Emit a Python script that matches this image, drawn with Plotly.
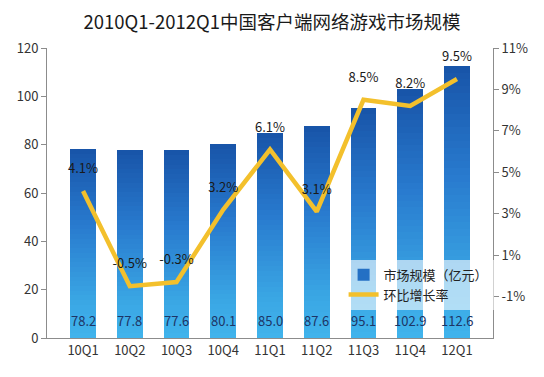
import plotly.graph_objects as go

categories = ["10Q1", "10Q2", "10Q3", "10Q4", "11Q1", "11Q2", "11Q3", "11Q4", "12Q1"]
market_size = [78.2, 77.8, 77.6, 80.1, 85.0, 87.6, 95.1, 102.9, 112.6]
growth_rate = [4.1, -0.5, -0.3, 3.2, 6.1, 3.1, 8.5, 8.2, 9.5]
left_ticks = [0, 20, 40, 60, 80, 100, 120]
right_ticks = [-1, 1, 3, 5, 7, 9, 11]

FONT = "Noto Sans CJK SC, Noto Sans, sans-serif"

# gradient stops (fraction of bar height from bottom -> colour)
stops = [(0.0, (64, 180, 236)), (0.2, (58, 166, 228)), (0.6, (40, 122, 206)), (1.0, (24, 84, 168))]


def grad_color(f):
    for (f0, c0), (f1, c1) in zip(stops[:-1], stops[1:]):
        if f0 <= f <= f1:
            t = (f - f0) / (f1 - f0)
            c = [round(a + (b - a) * t) for a, b in zip(c0, c1)]
            return "rgb(%d,%d,%d)" % tuple(c)
    return "rgb(%d,%d,%d)" % stops[-1][1]


N = 40
fig = go.Figure()
for k in range(N):
    f = (k + 0.5) / N
    fig.add_trace(go.Bar(
        x=categories, y=[v / N for v in market_size],
        marker=dict(color=grad_color(f), line=dict(width=0)),
        width=0.55, showlegend=False, hoverinfo="skip", yaxis="y",
    ))

# legend entry for bars
fig.add_trace(go.Bar(
    x=categories, y=[None] * len(categories), name="市场规模（亿元）",
    marker=dict(color="rgb(36,112,196)", line=dict(width=0)), showlegend=True, yaxis="y",
))

fig.add_trace(go.Scatter(
    x=categories, y=growth_rate, yaxis="y2", name="环比增长率",
    mode="lines+markers+text",
    line=dict(color="#f3c02c", width=4.5),
    marker=dict(size=22, color="rgba(0,0,0,0)"),
    text=["%.1f%%" % v for v in growth_rate], textposition="top center",
    textfont=dict(family=FONT, size=13, color="#1a1a1a"),
    cliponaxis=False,
))

for c, v in zip(categories, market_size):
    fig.add_annotation(x=c, y=0, yref="y", text="%.1f" % v, showarrow=False,
                       yanchor="bottom", yshift=6,
                       font=dict(family=FONT, size=13, color="#1d3566"))

fig.update_layout(
    width=544, height=377,
    margin=dict(l=47, r=51, t=48, b=39),
    paper_bgcolor="white", plot_bgcolor="white",
    barmode="stack", bargap=0.45,
    title=dict(text="2010Q1-2012Q1中国客户端网络游戏市场规模", x=0.5, xanchor="center",
               y=0.94, yanchor="middle",
               font=dict(family=FONT, size=18.5, color="#1a1a1a")),
    font=dict(family=FONT, size=13, color="#333"),
    xaxis=dict(showline=True, linecolor="#8c8c8c", linewidth=1, ticks="",
               tickfont=dict(size=13, color="#333"), showgrid=False, automargin=False),
    yaxis=dict(range=[0, 120], tickvals=left_ticks, showgrid=False, zeroline=False,
               showline=True, linecolor="#8c8c8c", ticks="outside", ticklen=5,
               tickcolor="#8c8c8c", tickfont=dict(size=13, color="#333"), automargin=False),
    yaxis2=dict(range=[-3, 11], overlaying="y", side="right", tickvals=right_ticks,
                ticktext=["%d%%" % v for v in right_ticks], showgrid=False, zeroline=False,
                showline=True, linecolor="#8c8c8c", ticks="outside", ticklen=5,
                tickcolor="#8c8c8c", tickfont=dict(size=13, color="#333"), automargin=False),
    legend=dict(x=0.665, y=0.27, xanchor="left", yanchor="top", traceorder="normal",
                bgcolor="rgba(255,255,255,0.6)", font=dict(size=13, color="#222"),
                tracegroupgap=0, itemwidth=30),
    showlegend=True,
)

fig.write_html("out.html", config={"displayModeBar": False},
               post_script="document.body.style.margin='0px';")
